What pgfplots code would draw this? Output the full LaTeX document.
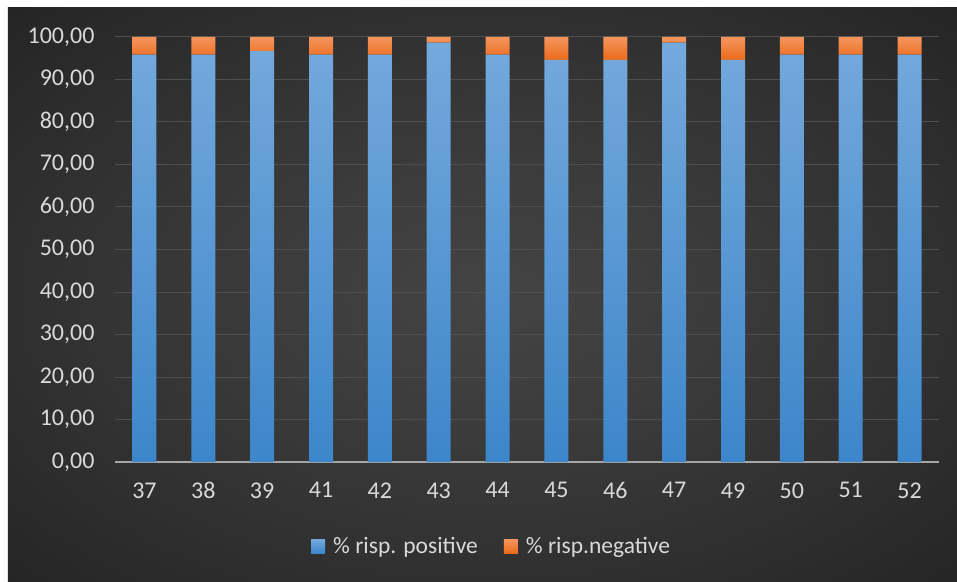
\documentclass[border=0pt]{standalone}
\usepackage{fontspec}
\setmainfont{Carlito}
\usepackage{pgfplots}
\pgfplotsset{compat=1.18}
\definecolor{bgin}{HTML}{444444}
\definecolor{bgmid}{HTML}{3B3B3B}
\definecolor{bgout1}{HTML}{2F2F2F}
\definecolor{bgout}{HTML}{242424}
\definecolor{tickc}{HTML}{D9D9D9}
\definecolor{gridc}{HTML}{4E4E4E}
\definecolor{axisc}{HTML}{A6A6A6}
\definecolor{blueT}{HTML}{74A9DC}
\definecolor{blueB}{HTML}{3D86CA}
\definecolor{orT}{HTML}{F5955E}
\definecolor{orB}{HTML}{EB6A1A}
\pgfdeclareradialshading{bgshade}{\pgfpoint{0bp}{0bp}}{color(0bp)=(bgin); color(12bp)=(bgmid); color(25bp)=(bgout1); color(36bp)=(bgout); color(50bp)=(bgout)}
\begin{document}
\begin{tikzpicture}[x=1pt,y=1pt]
\useasboundingbox (-115,-119) rectangle (842,462);
\fill[white] (-116,-120) rectangle (843,463);
\shade[shading=bgshade] (-107,-125) rectangle (848,454);
\begin{axis}[
  anchor=south west, at={(0,0)},
  scale only axis, width=824pt, height=425pt,
  ybar stacked, bar width=24pt,
  xmin=-0.5, xmax=13.5, ymin=0, ymax=100,
  xtick={0,...,13},
  xticklabels={37,38,39,41,42,43,44,45,46,47,49,50,51,52},
  ytick={0,10,...,100},
  axis line style={draw=none},
  major tick length=0pt,
  ymajorgrids, grid style={gridc, line width=1pt},
  font=\fontsize{24}{28}\selectfont,
  tick label style={text=tickc},
  /pgf/number format/assume math mode=true,
  yticklabel style={/pgf/number format/.cd, fixed, fixed zerofill, precision=2, use comma, /tikz/.cd, xshift=-17pt},
  xticklabel style={yshift=-17pt},
  legend style={at={(0.457,-0.198)}, anchor=center, legend columns=2, draw=none, fill=none, text=tickc,
    font=\fontsize{23.5}{27}\selectfont,
    /tikz/every even column/.append style={column sep=24pt}},
]
\addplot[draw=none, top color=blueT, bottom color=blueB, legend image code/.code={\fill[blueT!50!blueB] (0pt,-7pt) rectangle (14pt,7pt); \path (20pt,0pt);}]
 coordinates {(0,95.83) (1,95.83) (2,96.67) (3,95.83) (4,95.83) (5,98.70) (6,95.83) (7,94.59) (8,94.59) (9,98.70) (10,94.59) (11,95.83) (12,95.83) (13,95.83)};
\addlegendentry{\% risp. positive}
\addplot[draw=none, top color=orT, bottom color=orB, legend image code/.code={\fill[orT!50!orB] (0pt,-7pt) rectangle (14pt,7pt); \path (20pt,0pt);}]
 coordinates {(0,4.17) (1,4.17) (2,3.33) (3,4.17) (4,4.17) (5,1.30) (6,4.17) (7,5.41) (8,5.41) (9,1.30) (10,5.41) (11,4.17) (12,4.17) (13,4.17)};
\addlegendentry{\% risp.negative}
\draw[axisc, line width=1.8pt] (rel axis cs:0,0) -- (rel axis cs:1,0);
\end{axis}
\end{tikzpicture}
\end{document}
